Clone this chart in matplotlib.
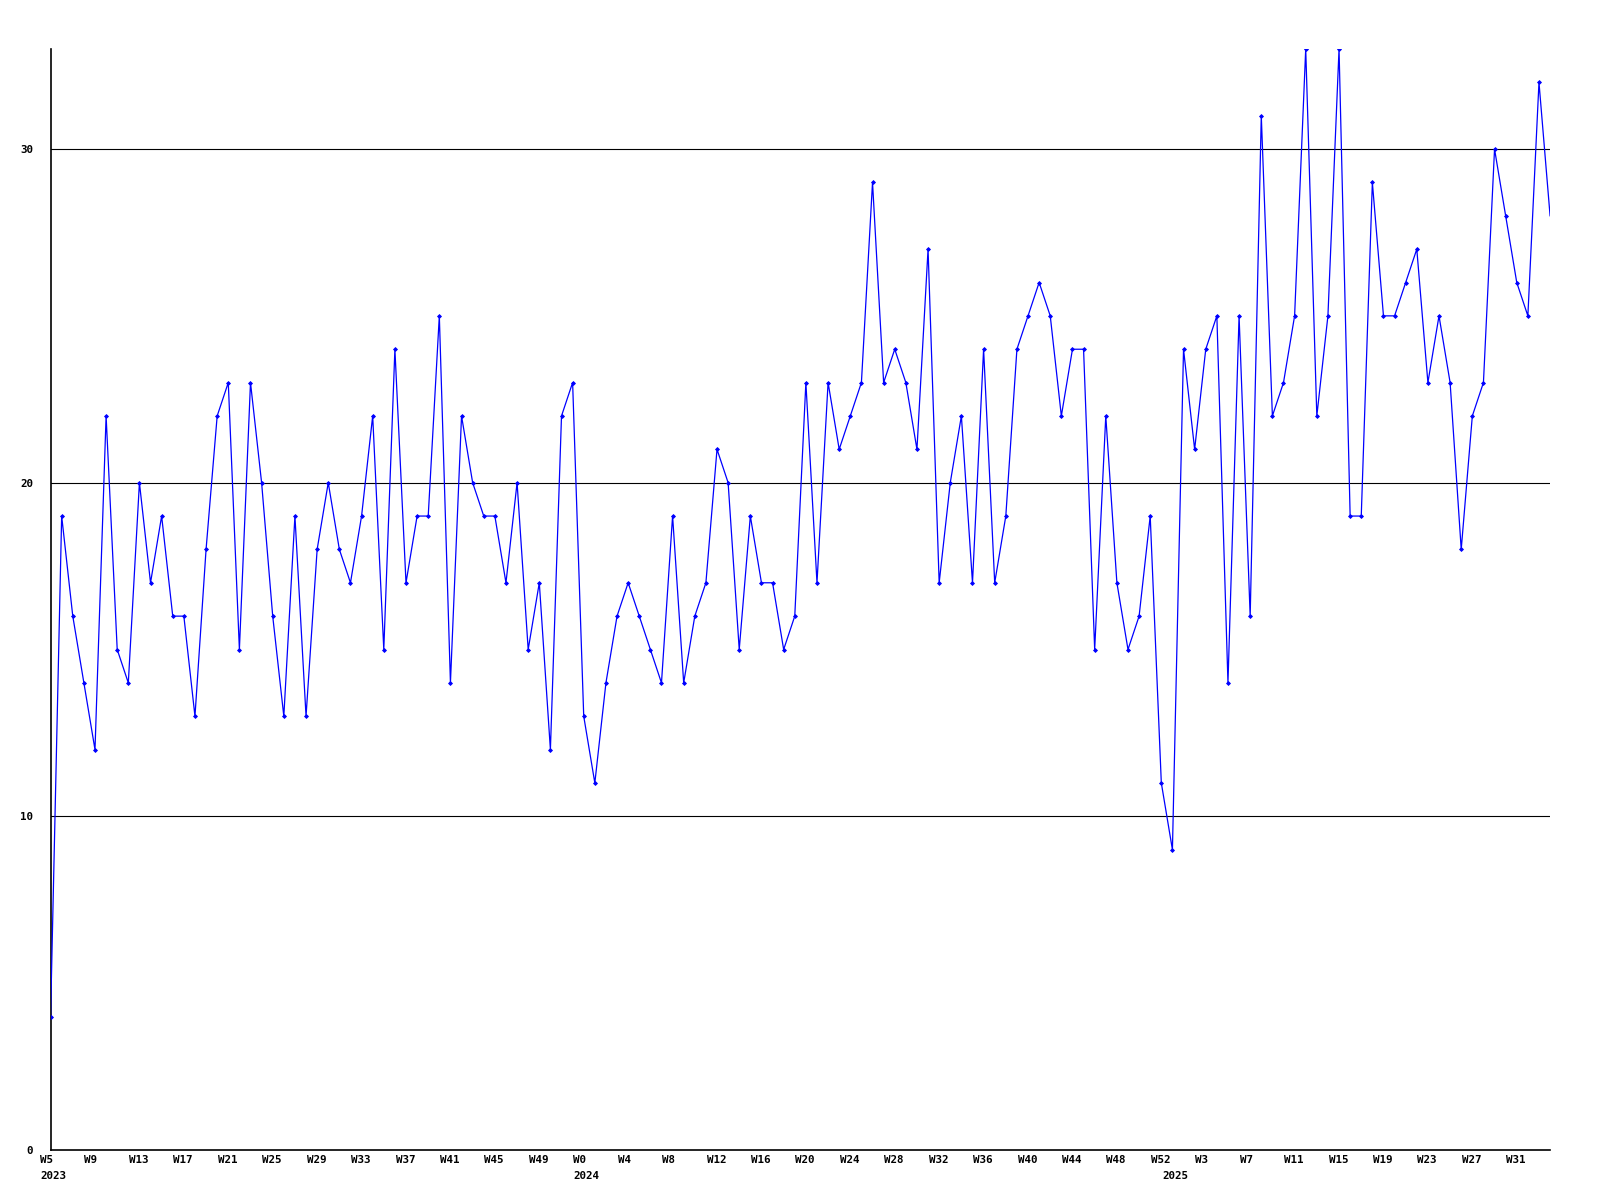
import matplotlib
matplotlib.use("Agg")
import matplotlib.pyplot as plt
import matplotlib.transforms as mtransforms
import numpy as np

# weekly values, 2023 W5 .. 2025 W~35
values = [4, 19, 16, 14, 12, 22, 15, 14, 20, 17, 19, 16, 16, 13, 18, 22,
          23, 15, 23, 20, 16, 13, 19, 13, 18, 20, 18, 17, 19, 22, 15, 24,
          17, 19, 19, 25, 14, 22, 20, 19, 19, 17, 20, 15, 17, 12, 22, 23,
          13, 11, 14, 16, 17, 16, 15, 14, 19, 14, 16, 17, 21, 20, 15, 19,
          17, 17, 15, 16, 23, 17, 23, 21, 22, 23, 29, 23, 24, 23, 21, 27,
          17, 20, 22, 17, 24, 17, 19, 24, 25, 26, 25, 22, 24, 24, 15, 22,
          17, 15, 16, 19, 11, 9, 24, 21, 24, 25, 14, 25, 16, 31, 22, 23,
          25, 33, 22, 25, 33, 19, 19, 29, 25, 25, 26, 27, 23, 25, 23, 18,
          22, 23, 30, 28, 26, 25, 32, 28]

week_labels = ["W5", "W9", "W13", "W17", "W21", "W25", "W29", "W33", "W37",
               "W41", "W45", "W49", "W0", "W4", "W8", "W12", "W16", "W20",
               "W24", "W28", "W32", "W36", "W40", "W44", "W48", "W52", "W3",
               "W7", "W11", "W15", "W19", "W23", "W27", "W31"]
years = ["2023", "2024", "2025"]
year_start = [0, 48, 101]   # index of first week of each year

x = np.arange(len(values))

fig = plt.figure(figsize=(16, 12), dpi=100)
ax = fig.add_axes([0.0316, 0.0417, 0.9372, 0.9175])

for g in [10, 20, 30]:
    ax.axhline(g, color="black", lw=0.8, zorder=1)

ax.plot(x, values, color="#0000ff", lw=0.9, zorder=3)
ax.plot(x[:-1], values[:-1], ls="none", marker="D", ms=2.0, mew=0.6,
        color="#0000ff", zorder=4)

ax.set_xlim(0, len(values) - 1)
ax.set_ylim(0, 33)

for s in ["top", "right"]:
    ax.spines[s].set_visible(False)
ax.spines["left"].set_linewidth(1.2)
ax.spines["bottom"].set_linewidth(1.2)

font = dict(family="DejaVu Sans Mono", fontweight="bold", fontsize=7.8)

ax.set_yticks([0, 10, 20, 30])
ax.set_yticklabels(["0", "10", "20", "30"], **font)
ax.tick_params(axis="y", length=0, pad=12.5)
ax.set_xticks([])

# week labels, left aligned a little before their point
trans = mtransforms.blended_transform_factory(ax.transData, ax.transAxes)
off = mtransforms.offset_copy(trans, fig=fig, x=-10.5, y=-5, units="dots")
for i, lab in enumerate(week_labels):
    ax.text(i * 4, 0, lab, transform=off, ha="left", va="top", **font)

off2 = mtransforms.offset_copy(trans, fig=fig, x=-10.5, y=-21, units="dots")
for xi, yr in zip(year_start, years):
    ax.text(xi, 0, yr, transform=off2, ha="left", va="top", **font)

fig.savefig("out.png", dpi=100)
